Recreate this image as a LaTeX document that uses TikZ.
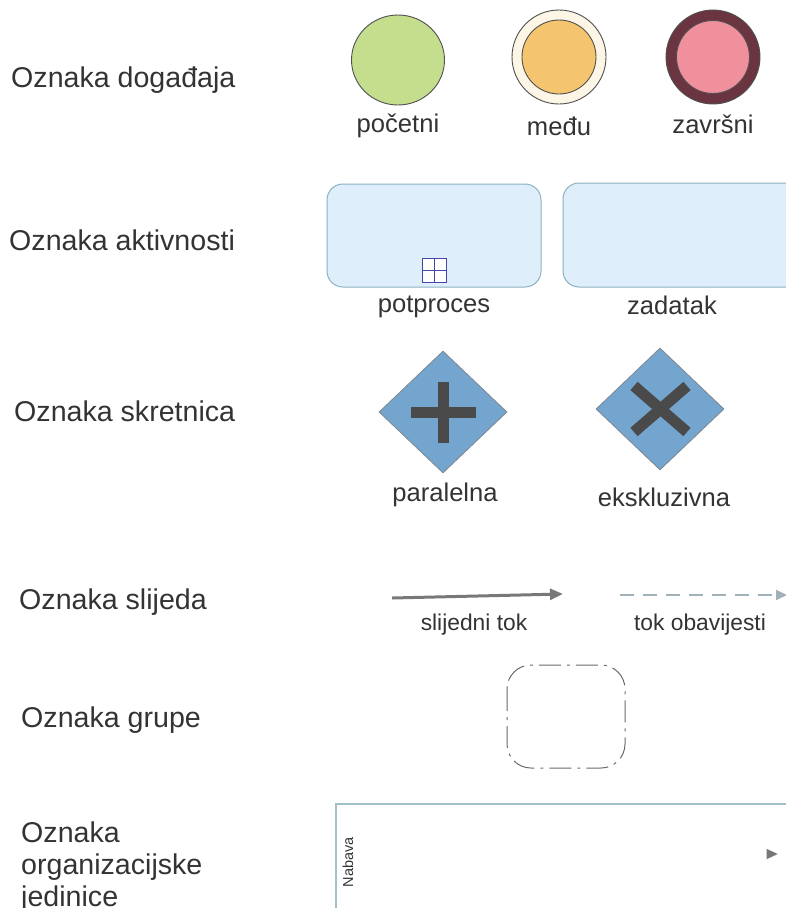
\documentclass[tikz,border=0pt]{standalone}
\usepackage{fontspec}
\setmainfont{Liberation Sans}
\usetikzlibrary{shapes.geometric,arrows.meta,calc}

\definecolor{txt}{HTML}{333333}
\definecolor{startfill}{HTML}{C4DE8E}
\definecolor{midring}{HTML}{FDF6E7}
\definecolor{midfill}{HTML}{F4C56E}
\definecolor{endring}{HTML}{6A3440}
\definecolor{endfill}{HTML}{F0909C}
\definecolor{evline}{HTML}{505050}
\definecolor{actfill}{HTML}{DEEEFB}
\definecolor{actline}{HTML}{8CB2C2}
\definecolor{subbox}{HTML}{4545AA}
\definecolor{gwfill}{HTML}{74A5CF}
\definecolor{gwline}{HTML}{7F8790}
\definecolor{gwmark}{HTML}{4A4A4A}
\definecolor{seqflow}{HTML}{787878}
\definecolor{msgflow}{HTML}{A2B0BA}
\definecolor{grpline}{HTML}{6A6A6A}
\definecolor{poolline}{HTML}{A2C0CA}

\tikzset{
  rowlabel/.style={anchor=west, text=txt, font=\fontsize{28.6}{32}\selectfont, inner sep=0pt, align=left},
  itemlabel/.style={text=txt, font=\fontsize{25.6}{28}\selectfont, inner sep=0pt},
  flowlabel/.style={text=txt, font=\fontsize{22.8}{25}\selectfont, inner sep=0pt},
  event/.style={circle, draw=evline, line width=0.9pt, inner sep=0pt},
  activity/.style={draw=actline, fill=actfill, line width=1pt, rounded corners=16pt},
  gateway/.style={diamond, draw=gwline, fill=gwfill, line width=0.8pt, inner sep=0pt,
    minimum width=128pt, minimum height=122pt},
  gwbar/.style={draw=gwmark, line width=11pt},
}

\begin{document}
\begin{tikzpicture}[x=1pt, y=-1pt]
\useasboundingbox (0,0) rectangle (786,908);
\clip (0,0) rectangle (786,908);

% row labels
\node[rowlabel] (lEvent) at (11,80) {Oznaka događaja};
\node[rowlabel] (lAct) at (9,240) {Oznaka aktivnosti};
\node[rowlabel] (lGw) at (14,411) {Oznaka skretnica};
\node[rowlabel] (lFlow) at (19,602) {Oznaka slijeda};
\node[rowlabel] (lGrp) at (21,720) {Oznaka grupe};
\node[rowlabel] (lPool) at (21,867) {Oznaka\\organizacijske\\jedinice};

% events
\node[event, fill=startfill, minimum width=93pt, minimum height=90pt, ellipse] (evStart) at (398,60) {};
\node[event, fill=midring, minimum size=94pt] (evMidOuter) at (559,57) {};
\node[event, fill=midfill, minimum size=74pt] (evMidInner) at (559,57) {};
\node[event, fill=endring, minimum size=94pt] (evEndOuter) at (713,57) {};
\node[event, fill=endfill, minimum size=73pt] (evEndInner) at (713,57) {};
\node[itemlabel] (tStart) at (398,126) {početni};
\node[itemlabel] (tMid) at (559,126) {među};
\node[itemlabel] (tEnd) at (713,124) {završni};

% activities
\draw[activity] (327,184) rectangle (541,287);
\node[draw=subbox, fill=white, line width=0.8pt, minimum size=24pt, inner sep=0pt] (subMark) at (434,270) {};
\draw[subbox, line width=1pt] (subMark.north) -- (subMark.south) (subMark.west) -- (subMark.east);
\draw[activity] (563,183) rectangle (820,287);
\node[itemlabel] (tSub) at (434,307) {potproces};
\node[itemlabel] (tTask) at (672,305) {zadatak};

% gateways
\node[gateway] (gwPar) at (443,412) {};
\draw[gwbar] ($(gwPar.center)+(-32,0)$) -- ($(gwPar.center)+(33,0)$);
\draw[gwbar] ($(gwPar.center)+(0,-30)$) -- ($(gwPar.center)+(0,31)$);
\node[gateway] (gwExc) at (660,409) {};
\draw[gwbar] ($(gwExc.center)+(-26,-23)$) -- ($(gwExc.center)+(27,23)$);
\draw[gwbar] ($(gwExc.center)+(-26,23)$) -- ($(gwExc.center)+(27,-23)$);
\node[itemlabel] (tPar) at (445,495) {paralelna};
\node[itemlabel] (tExc) at (664,497) {ekskluzivna};

% flows
\coordinate (seqA) at (392,598);
\coordinate (seqB) at (563,594);
\draw[seqflow, line width=3pt, -{Triangle[length=13pt, width=11pt]}] (seqA) -- (seqB);
\coordinate (msgA) at (620,595);
\coordinate (msgB) at (787,595);
\draw[msgflow, line width=1.8pt, dash pattern=on 14pt off 9pt, -{Triangle[length=11pt, width=10pt]}] (msgA) -- (msgB);
\node[flowlabel] (tSeq) at (474,625) {slijedni tok};
\node[flowlabel] (tMsg) at (700,625) {tok obavijesti};

% group
\draw[grpline, line width=1pt, rounded corners=24pt, dash pattern=on 22pt off 6pt on 3pt off 6pt]
  (507,665) rectangle (625,768);

% pool / lane
\coordinate (poolTR) at (800,804);
\coordinate (poolTL) at (336,804);
\coordinate (poolBL) at (336,920);
\draw[poolline, line width=1.5pt] (poolTR) -- (poolTL) -- (poolBL);
\node[rotate=90, text=txt, font=\fontsize{14.5}{16}\selectfont, inner sep=0pt] (tPool) at (348,862) {Nabava};
\node[fill=seqflow, isosceles triangle, isosceles triangle apex angle=50, minimum height=11pt, inner sep=0pt] (poolMark) at (770,854) {};
\end{tikzpicture}
\end{document}
